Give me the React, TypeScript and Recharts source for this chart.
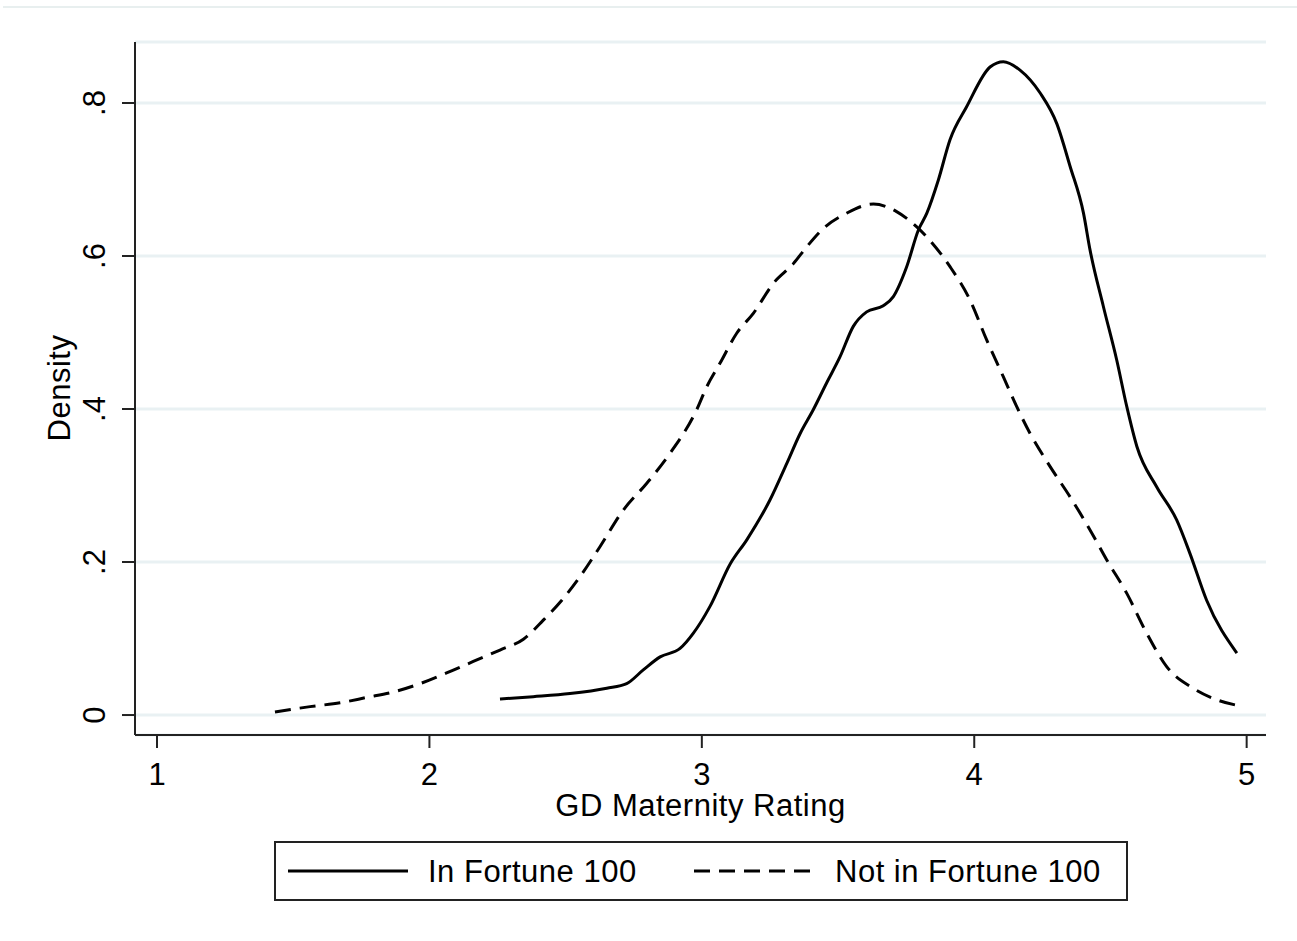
import { LineChart, Line, XAxis, YAxis, CartesianGrid } from 'recharts'

// In Fortune 100 (solid)
const inX = [2.259, 2.381, 2.516, 2.651, 2.724, 2.785, 2.847, 2.92, 2.969, 3.03, 3.105, 3.165, 3.25, 3.312, 3.361, 3.409, 3.458, 3.507, 3.556, 3.605, 3.666, 3.703, 3.752, 3.795, 3.826, 3.868, 3.911, 3.972, 4.058, 4.107, 4.168, 4.242, 4.303, 4.352, 4.401, 4.425, 4.474, 4.523, 4.56, 4.597, 4.67, 4.743, 4.792, 4.853, 4.964]
const inY = [0.021, 0.024, 0.028, 0.035, 0.041, 0.059, 0.076, 0.087, 0.107, 0.142, 0.198, 0.229, 0.281, 0.329, 0.368, 0.399, 0.434, 0.468, 0.508, 0.527, 0.535, 0.547, 0.586, 0.634, 0.656, 0.699, 0.752, 0.795, 0.847, 0.854, 0.843, 0.813, 0.773, 0.717, 0.656, 0.608, 0.534, 0.464, 0.403, 0.351, 0.298, 0.255, 0.211, 0.15, 0.081]

// Not in Fortune 100 (dashed)
const notX = [1.433, 1.562, 1.672, 1.77, 1.866, 1.965, 2.063, 2.161, 2.259, 2.345, 2.418, 2.486, 2.553, 2.626, 2.712, 2.798, 2.883, 2.981, 3.018, 3.067, 3.128, 3.189, 3.262, 3.336, 3.385, 3.446, 3.532, 3.63, 3.715, 3.789, 3.911, 3.985, 4.046, 4.107, 4.156, 4.205, 4.278, 4.352, 4.425, 4.486, 4.56, 4.633, 4.707, 4.804, 4.89, 4.988]
const notY = [0.004, 0.011, 0.016, 0.023, 0.03, 0.041, 0.055, 0.07, 0.085, 0.099, 0.124, 0.15, 0.181, 0.22, 0.268, 0.303, 0.342, 0.399, 0.429, 0.46, 0.499, 0.525, 0.564, 0.59, 0.612, 0.636, 0.656, 0.668, 0.658, 0.638, 0.586, 0.542, 0.49, 0.442, 0.403, 0.368, 0.325, 0.285, 0.242, 0.203, 0.159, 0.107, 0.063, 0.035, 0.02, 0.011]

const xTicks = [1, 2, 3, 4, 5]
const yTicks = [0, 0.2, 0.4, 0.6, 0.8]
const yTickLabels = ['0', '.2', '.4', '.6', '.8']
const seriesNames = ['In Fortune 100', 'Not in Fortune 100']

const inData = inX.map((x, i) => ({ x, y: inY[i] }))
const notData = notX.map((x, i) => ({ x, y: notY[i] }))

const FONT = '"Liberation Sans", Arial, sans-serif'
const FS = 31
const LS = 0.5
const INK = '#222'
const DASH = '16 9'

function XTick({ x, payload }: any) {
  return (
    <text x={x} y={785} textAnchor="middle" fontFamily={FONT} fontSize={FS} fill="#000">
      {payload.value}
    </text>
  )
}

function YTick({ y, payload }: any) {
  const idx = yTicks.indexOf(payload.value)
  return (
    <text x={105} y={y} transform={`rotate(-90 105 ${y})`} textAnchor="middle" fontFamily={FONT} fontSize={FS} fill="#000">
      {idx >= 0 ? yTickLabels[idx] : payload.value}
    </text>
  )
}

function Legend() {
  return (
    <svg width={854} height={60} style={{ position: 'absolute', left: 274, top: 841 }}>
      <rect x={1} y={1} width={852} height={58} fill="#fff" stroke={INK} strokeWidth={2} />
      <line x1={14} x2={134} y1={30} y2={30} stroke="#000" strokeWidth={3} />
      <text x={154} y={41} fontFamily={FONT} fontSize={FS} letterSpacing={LS} fill="#000">{seriesNames[0]}</text>
      <line x1={420} x2={540} y1={30} y2={30} stroke="#000" strokeWidth={3} strokeDasharray={DASH} />
      <text x={561} y={41} fontFamily={FONT} fontSize={FS} letterSpacing={LS} fill="#000">{seriesNames[1]}</text>
    </svg>
  )
}

export default function App() {
  return (
    <div style={{ position: 'absolute', left: 0, top: 0, width: 1297, height: 941, background: '#fff' }}>
      <div style={{ position: 'absolute', left: 3, top: 6, width: 1294, height: 2, background: '#e8efef' }} />
      <LineChart width={1297} height={941} margin={{ top: 42, right: 31, bottom: 146, left: 0 }}>
        <CartesianGrid vertical={false} stroke="#e9f1f3" strokeWidth={3} />
        <XAxis
          type="number"
          dataKey="x"
          domain={[0.9192, 5.071]}
          allowDataOverflow
          ticks={xTicks}
          tick={<XTick />}
          tickSize={13}
          height={60}
          axisLine={{ stroke: INK, strokeWidth: 2 }}
          tickLine={{ stroke: INK, strokeWidth: 2 }}
          label={{
            content: () => (
              <text x={700.5} y={816} textAnchor="middle" fontFamily={FONT} fontSize={FS} letterSpacing={LS} fill="#000">
                GD Maternity Rating
              </text>
            ),
          }}
        />
        <YAxis
          type="number"
          dataKey="y"
          domain={[-0.0261, 0.8797]}
          allowDataOverflow
          ticks={yTicks}
          tick={<YTick />}
          tickSize={13}
          width={135}
          axisLine={{ stroke: INK, strokeWidth: 2 }}
          tickLine={{ stroke: INK, strokeWidth: 2 }}
          label={{
            content: () => (
              <text x={70} y={388} transform="rotate(-90 70 388)" textAnchor="middle" fontFamily={FONT} fontSize={FS} letterSpacing={LS} fill="#000">
                Density
              </text>
            ),
          }}
        />
        <Line data={inData} dataKey="y" name={seriesNames[0]} type="monotone" stroke="#000" strokeWidth={3} dot={false} isAnimationActive={false} />
        <Line data={notData} dataKey="y" name={seriesNames[1]} type="monotone" stroke="#000" strokeWidth={3} strokeDasharray={DASH} dot={false} isAnimationActive={false} />
      </LineChart>
      <Legend />
    </div>
  )
}
